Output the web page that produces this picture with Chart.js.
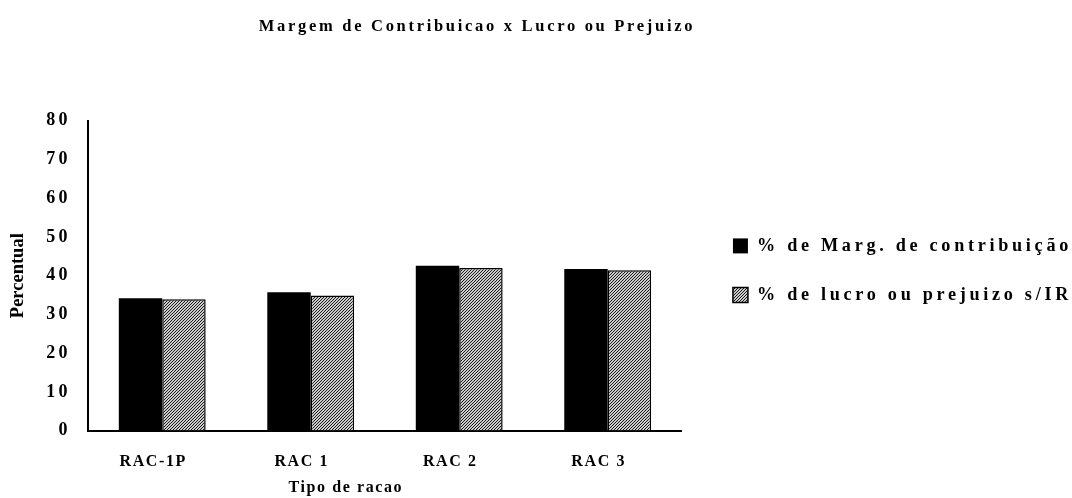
<!DOCTYPE html>
<html lang="en">
  <head>
    <meta charset="UTF-8" />
    <script src="https://cdn.jsdelivr.net/npm/chart.js@4.4.1/dist/chart.umd.min.js"></script>
    <title>Margem de Contribuicao x Lucro ou Prejuizo</title>
    <style>
      body { margin: 0; background: #fff; }
    </style>
  </head>
  <body>
    <canvas id="chart" width="1072" height="498"></canvas>
    <script>
      // data
      const categories = ["RAC-1P", "RAC 1", "RAC 2", "RAC 3"];
      const margContribuicao = [34.2, 35.7, 42.6, 41.7];
      const lucroPrejuizo = [33.9, 34.9, 42.0, 41.4];
      const yTicks = [0, 10, 20, 30, 40, 50, 60, 70, 80];

      // letter spacing per font size (px), the original text is spread out
      const spacingBySize = { "16.5": 2.7, "16": 1.6, "18": 3.4, "18.2": 3.7 };

      function spacingFor(font) {
        const m = /([\d.]+)px/.exec(font);
        return m && spacingBySize[m[1]] ? spacingBySize[m[1]] : 0;
      }

      // fine diagonal hatch for the second series
      function hatch() {
        const c = document.createElement("canvas");
        c.width = 3;
        c.height = 3;
        const g = c.getContext("2d");
        g.fillStyle = "#cccccc";
        g.fillRect(0, 0, 3, 3);
        g.fillStyle = "#1a1a1a";
        for (let x = 0; x < 3; x++) {
          for (let y = 0; y < 3; y++) {
            if ((x + y) % 3 === 2) g.fillRect(x, y, 1, 1);
          }
        }
        return g.createPattern(c, "repeat");
      }

      const ctx = document.getElementById("chart").getContext("2d");

      // patch text calls so measuring and drawing both know the spacing
      const origFill = ctx.fillText.bind(ctx);
      const origMeasure = ctx.measureText.bind(ctx);
      ctx.fillText = function (t, x, y, w) {
        ctx.letterSpacing = spacingFor(ctx.font) + "px";
        origFill(t, x, y, w);
        ctx.letterSpacing = "0px";
      };
      ctx.measureText = function (t) {
        ctx.letterSpacing = "0px";
        const m = origMeasure(t);
        return { width: m.width + spacingFor(ctx.font) * String(t).length };
      };

      // the chart title sits left of the page centre in the original
      const titleShift = {
        id: "titleShift",
        afterLayout(chart) {
          const t = chart.titleBlock;
          t.left = 0;
          t.right = 954;
          t.width = 954;
        },
      };

      const serif = "'Liberation Serif', 'Times New Roman', serif";

      new Chart(ctx, {
        type: "bar",
        data: {
          labels: categories,
          datasets: [
            {
              label: "% de Marg. de contribuição",
              data: margContribuicao,
              backgroundColor: "#000",
              borderColor: "#000",
              borderWidth: 0,
            },
            {
              label: "% de lucro ou prejuizo s/IR",
              data: lucroPrejuizo,
              backgroundColor: hatch(),
              borderColor: "#000",
              borderWidth: 1.5,
            },
          ],
        },
        options: {
          responsive: false,
          animation: false,
          events: [],
          categoryPercentage: 0.585,
          barPercentage: 1,
          layout: { padding: { left: 3, right: -10, top: 0, bottom: 0 } },
          plugins: {
            title: {
              display: true,
              text: "Margem de Contribuicao x Lucro ou Prejuizo",
              color: "#000",
              font: { family: serif, size: 16.5, weight: "bold" },
              padding: { top: 17, bottom: 84 },
            },
            legend: {
              position: "right",
              maxWidth: 420,
              title: {
                display: true,
                text: " ",
                font: { size: 10 },
                padding: { top: 31, bottom: 0 },
              },
              labels: {
                color: "#000",
                font: { family: serif, size: 18.2, weight: "bold" },
                boxWidth: 15,
                boxHeight: 15,
                padding: 31,
              },
            },
            tooltip: { enabled: false },
          },
          scales: {
            x: {
              grid: { display: false, drawTicks: false },
              border: { color: "#000", width: 2 },
              ticks: {
                color: "#000",
                padding: 22,
                labelOffset: -9,
                font: { family: serif, size: 16, weight: "bold" },
              },
              title: {
                display: true,
                // trailing spaces move the centred title left, as in the original
                text: "Tipo de racao              ",
                color: "#000",
                font: { family: serif, size: 16, weight: "bold" },
                padding: { top: -16, bottom: 1 },
              },
            },
            y: {
              min: 0,
              max: 80,
              afterBuildTicks(axis) {
                axis.ticks = yTicks.map((v) => ({ value: v }));
              },
              grid: { display: false, drawTicks: false },
              border: { color: "#000", width: 2 },
              ticks: {
                color: "#000",
                padding: 17,
                font: { family: serif, size: 18, weight: "bold" },
              },
              title: {
                display: true,
                text: "Percentual",
                color: "#000",
                font: { family: serif, size: 18.5, weight: "bold" },
                padding: { top: 4, bottom: 0 },
              },
            },
            // empty gap between the plot and the legend
            gap: {
              position: "right",
              grid: { display: false },
              border: { display: false },
              ticks: { display: false },
              afterFit(axis) {
                axis.width = 20;
              },
            },
          },
        },
        plugins: [titleShift],
      });
    </script>
  </body>
</html>
